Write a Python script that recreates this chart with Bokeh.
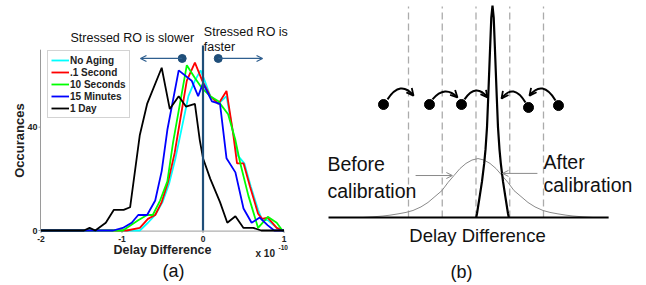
import math
from bokeh.plotting import figure
from bokeh.models import Range1d, Arrow, OpenHead, Legend, LegendItem
from bokeh.embed import file_html
from bokeh.resources import INLINE
from bokeh.core.properties import value

FONT = "Liberation Sans"

# ---------------- panel (a) data ----------------
series_names = ["No Aging", ".1 Second", "10 Seconds", "15 Minutes", "1 Day"]
series_colors = ["#00ffff", "#ff0000", "#00ff00", "#0000ff", "#000000"]

x_no_aging = [-2.0, -0.90, -0.78, -0.68, -0.59, -0.50, -0.42, -0.34, -0.26, -0.18, -0.10, -0.03, 0.02,
              0.09, 0.19, 0.29, 0.37, 0.43, 0.51, 0.59, 0.68, 0.73, 0.80, 0.91, 0.98, 1.0]
y_no_aging = [0, 0, 0, 3, 6, 11, 18, 28, 40, 52, 58, 62, 58, 52, 49, 52, 38, 29, 26, 17, 8, 4, 4, 1, 0, 0]

x_01s = [-2.0, -0.94, -0.78, -0.68, -0.59, -0.51, -0.43, -0.35, -0.27, -0.20, -0.10, -0.01, 0.09, 0.19,
         0.29, 0.37, 0.42, 0.50, 0.58, 0.68, 0.73, 0.80, 0.91, 0.98, 1.0]
y_01s = [0, 0, 1, 4.5, 6, 11, 19, 30, 45, 58, 65, 58, 52, 49, 54, 38, 26, 26, 17, 6.5, 4.5, 5, 1, 0, 0]

x_10s = [-2.0, -0.99, -0.80, -0.69, -0.62, -0.53, -0.44, -0.37, -0.20, -0.10, -0.01, 0.09, 0.19, 0.31,
         0.40, 0.46, 0.56, 0.68, 0.80, 0.91, 0.98, 1.0]
y_10s = [0, 0, 4, 6, 6, 11.6, 19, 34, 64, 59, 55, 52, 50, 45, 35, 26, 13.5, 1, 5.3, 3, 0, 0]

x_15m = [-2.0, -1.11, -0.99, -0.88, -0.80, -0.69, -0.59, -0.51, -0.44, -0.30, -0.14, -0.06, 0.00, 0.11,
         0.21, 0.29, 0.40, 0.50, 0.60, 0.70, 0.80, 0.88, 1.0]
y_15m = [0, 0, 1, 3, 6, 6, 11.6, 23, 39, 62, 58, 52, 57, 50, 49, 28, 22.5, 8.5, 3, 5, 2, 0, 0]

x_1d = [-2.0, -1.47, -1.40, -1.33, -1.20, -1.10, -0.98, -0.90, -0.78, -0.69, -0.51, -0.41, -0.30, -0.21,
        -0.10, -0.04, 0.00, 0.09, 0.21, 0.30, 0.40, 0.50, 0.62, 0.72, 1.0]
y_1d = [0, 0, 1, 0, 3, 8, 8, 9, 37, 49, 63, 47, 52, 48, 49, 35, 28, 20, 11, 3, 5.5, 1, 1, 0, 0]

series_x = [x_no_aging, x_01s, x_10s, x_15m, x_1d]
series_y = [y_no_aging, y_01s, y_10s, y_15m, y_1d]

x_ticks = [-2, -1, 0, 1]
x_tick_labels = ["-2", "-1", "0", "1"]
y_ticks = [0, 40]
y_tick_labels = ["0", "40"]

# ---------------- panel (b) data (schematic units) ----------------
dashed_x = [-2, -1, 0, 1, 2]
wide_x = [-3.348, -3.052, -2.756, -2.548, -2.311, -2.074, -1.867, -1.630, -1.422, -1.215, -1.008, -0.830,
          -0.652, -0.474, -0.297, -0.119, 0.059, 0.237, 0.415, 0.592, 0.770, 0.948, 1.126, 1.333, 1.540,
          1.748, 1.985, 2.192, 2.429, 2.666, 2.874, 3.170, 3.466]
wide_y = [0.0, 0.003, 0.007, 0.011, 0.017, 0.024, 0.033, 0.050, 0.071, 0.099, 0.127, 0.165, 0.198, 0.231,
          0.255, 0.271, 0.278, 0.271, 0.255, 0.231, 0.198, 0.165, 0.127, 0.099, 0.071, 0.050, 0.033,
          0.024, 0.017, 0.011, 0.007, 0.003, 0.0]
narrow_x = [0.006, 0.030, 0.104, 0.178, 0.243, 0.282, 0.326, 0.362, 0.415, 0.453, 0.489, 0.525, 0.563,
            0.616, 0.652, 0.696, 0.735, 0.800, 0.874, 0.948, 0.972]
narrow_y = [0.0, 0.019, 0.094, 0.170, 0.255, 0.321, 0.425, 0.566, 0.788, 0.943, 1.0, 0.943, 0.788, 0.566,
            0.425, 0.321, 0.255, 0.170, 0.094, 0.019, 0.0]
dot_x = [-2.741, -1.378, -0.430, 1.556, 2.444]
dot_y = [0.533, 0.533, 0.533, 0.519, 0.528]
arc_x0 = [-2.622, -1.289, -0.341, 1.467, 2.356]
arc_y0 = [0.557, 0.557, 0.557, 0.542, 0.552]
arc_x1 = [-1.852, -0.548, 0.341, 0.756, 1.585]
arc_y1 = [0.575, 0.566, 0.566, 0.561, 0.575]
arc_peak = [0.608, 0.594, 0.599, 0.594, 0.608]

# ================= one canvas, two coordinate systems =================
p = figure(width=646, height=285,
           x_range=Range1d(-14.089, 5.052), y_range=Range1d(-0.3208, 1.0236),
           output_backend="svg", toolbar_location=None, min_border=0)
p.axis.visible = False
p.grid.visible = False
p.outline_line_color = None
p.background_fill_color = "white"
p.border_fill_color = "white"
p.extra_x_ranges = {"ax": Range1d(-2.5, 5.475)}
p.extra_y_ranges = {"ay": Range1d(-21.29, 89.04)}
A = dict(x_range_name="ax", y_range_name="ay")

# ---- panel (a): axes ----
axis_gray = "#9a9a9a"
px_x = 1 / 81.0     # one pixel in (a) x units
px_y = 1 / 2.583    # one pixel in (a) y units
p.segment(x0=[-2 - 0.5 * px_x], y0=[0], x1=[-2 - 0.5 * px_x], y1=[70], line_color=axis_gray, line_width=1, **A)
p.segment(x0=[-2 - 0.5 * px_x], y0=[-0.6 * px_y], x1=[1], y1=[-0.6 * px_y], line_color=axis_gray, line_width=1, **A)
p.segment(x0=[-2 - 2.5 * px_x] * len(y_ticks), y0=y_ticks, x1=[-2] * len(y_ticks), y1=y_ticks,
          line_color=axis_gray, line_width=1, **A)
p.segment(x0=x_ticks, y0=[0] * len(x_ticks), x1=x_ticks, y1=[-2.5 * px_y] * len(x_ticks),
          line_color=axis_gray, line_width=1, **A)
p.text(x=[-2 - 3.5 * px_x] * len(y_ticks), y=y_ticks, text=y_tick_labels, text_font=value(FONT),
       text_font_size="9px", text_font_style="bold", text_align="right", text_baseline="middle",
       text_color="#222222", **A)
p.text(x=x_ticks, y=[-3.1] * len(x_ticks), text=x_tick_labels, text_font=value(FONT),
       text_font_size="8.5px", text_font_style="bold", text_align="center", text_baseline="middle",
       text_color="#222222", **A)
p.text(x=[-0.5], y=[-7.7], text=["Delay Difference"], text_font=value(FONT), text_font_size="12.5px",
       text_font_style="bold", text_align="center", text_baseline="middle", text_color="#222222", **A)
p.text(x=[-2.265], y=[34.8], text=["Occurances"], text_font=value(FONT), text_font_size="13px",
       text_font_style="bold", text_align="center", text_baseline="middle", angle=math.pi / 2,
       text_color="#222222", **A)
p.text(x=[0.648], y=[-8.9], text=["x 10"], text_font=value(FONT), text_font_size="10px",
       text_font_style="bold", text_align="left", text_baseline="middle", text_color="#222222", **A)
p.text(x=[0.932], y=[-6.6], text=["-10"], text_font=value(FONT), text_font_size="6.5px",
       text_font_style="bold", text_align="left", text_baseline="middle", text_color="#222222", **A)
p.text(x=[-0.364], y=[-15.8], text=["(a)"], text_font=value(FONT), text_font_size="18px",
       text_align="center", text_baseline="middle", text_color="#111111", **A)

# ---- panel (a): series ----
items = []
for name, col, xs, ys in zip(series_names, series_colors, series_x, series_y):
    r = p.line(xs, ys, line_color=col, line_width=1.8, **A)
    items.append(LegendItem(label=name, renderers=[r]))

navy = "#1f4e79"
p.segment(x0=[0], y0=[0], x1=[0], y1=[71.6], line_color=navy, line_width=2.2, **A)
for xs, xe in ((-0.257, -0.772), (0.188, 0.735)):
    p.add_layout(Arrow(end=OpenHead(size=6, line_color="#2f5f8f", line_width=1.3),
                       x_start=xs, y_start=66.6, x_end=xe, y_end=66.6,
                       line_color="#2f5f8f", line_width=1.3, **A))
p.scatter([-0.257, 0.188], [66.6, 66.6], size=8, color=navy, **A)

p.text(x=[-1.636, 0.01, 0.01], y=[74.7, 76.7, 70.9],
       text=["Stressed RO is slower", "Stressed RO is", "faster"], text_font=value(FONT),
       text_font_size="12.5px", text_align="left", text_baseline="middle", text_color="#111111", **A)

leg = Legend(items=items, location=(47, 167))
leg.border_line_color = "#a8a8a8"
leg.border_line_width = 1.5
leg.background_fill_color = "white"
leg.background_fill_alpha = 1.0
leg.label_text_font = FONT
leg.label_text_font_size = "10px"
leg.label_text_font_style = "bold"
leg.label_text_color = "#222222"
leg.glyph_width = 18
leg.glyph_height = 12
leg.label_height = 12
leg.label_standoff = 1
leg.spacing = 0
leg.padding = 3
leg.margin = 0
p.add_layout(leg)

# ---- panel (b) ----
p.segment(x0=dashed_x, y0=[0] * len(dashed_x), x1=dashed_x, y1=[0.995] * len(dashed_x),
          line_color="#ababab", line_width=1.3, line_dash="7 4")
p.line(wide_x, wide_y, line_color="#8a8a8a", line_width=1.0)
p.segment(x0=[-4.37], y0=[0], x1=[3.93], y1=[0], line_color="black", line_width=1.8)
p.line(narrow_x, narrow_y, line_color="black", line_width=2.2)

cx = [(a + b) / 2 for a, b in zip(arc_x0, arc_x1)]
cy = [2 * pk - (a + b) / 2 for pk, a, b in zip(arc_peak, arc_y0, arc_y1)]
p.quadratic(x0=arc_x0, y0=arc_y0, x1=arc_x1, y1=arc_y1, cx=cx, cy=cy,
            line_color="black", line_width=2)
for x1, y1, c_x, c_y in zip(arc_x1, arc_y1, cx, cy):
    p.add_layout(Arrow(end=OpenHead(size=7, line_color="black", line_width=1.8),
                       x_start=x1 - 0.15 * (x1 - c_x), y_start=y1 - 0.15 * (y1 - c_y),
                       x_end=x1, y_end=y1, line_color=None, line_width=0))
p.scatter(dot_x, dot_y, size=10, color="black")

for xs, xe, yy in ((-1.79, -0.70, 0.198), (1.82, 0.785, 0.208)):
    p.add_layout(Arrow(end=OpenHead(size=6, line_color="#8a8a8a", line_width=1),
                       x_start=xs, y_start=yy, x_end=xe, y_end=yy,
                       line_color="#8a8a8a", line_width=1))

p.text(x=[-4.40, -4.40, 2.0, 2.0], y=[0.25, 0.127, 0.264, 0.151],
       text=["Before", "calibration", "After", "calibration"],
       text_font=value(FONT), text_font_size="19.5px", text_align="left",
       text_baseline="middle", text_color="#111111")
p.text(x=[0.044], y=[-0.085], text=["Delay Difference"], text_font=value(FONT),
       text_font_size="18.5px", text_align="center", text_baseline="middle", text_color="#111111")
p.text(x=[-0.43], y=[-0.259], text=["(b)"], text_font=value(FONT),
       text_font_size="18px", text_align="center", text_baseline="middle", text_color="#111111")

open("out.html", "w").write(file_html(p, INLINE))
